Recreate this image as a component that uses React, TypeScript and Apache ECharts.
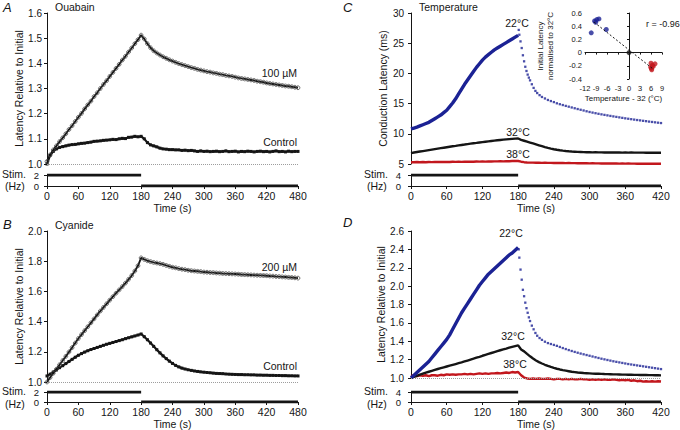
import React, { useEffect, useRef } from "react";
import * as echarts from "echarts";

// ---------- data ----------
const STEP_AB = 6; // s between samples, panels A & B
const STEP_CD = 5; // s between samples, panels C & D
const N_AB = 81;
const N_CD = 85;
const N_RISE = 37;

const OUABAIN_100UM = [
  1.010, 1.036, 1.056, 1.072, 1.089, 1.104, 1.120, 1.137, 1.152, 1.169,
  1.186, 1.201, 1.219, 1.235, 1.250, 1.268, 1.283, 1.300, 1.316, 1.331,
  1.348, 1.364, 1.380, 1.396, 1.413, 1.428, 1.445, 1.461, 1.478, 1.494,
  1.512,
  1.497, 1.478, 1.462, 1.450, 1.441, 1.433, 1.426, 1.420, 1.414, 1.409,
  1.404, 1.399, 1.395, 1.391, 1.387, 1.383, 1.380, 1.376, 1.373, 1.370,
  1.367, 1.365, 1.362, 1.360, 1.357, 1.355, 1.352, 1.350, 1.348, 1.345,
  1.342, 1.340, 1.338, 1.336, 1.334, 1.332, 1.329, 1.327, 1.325, 1.322,
  1.320, 1.318, 1.316, 1.314, 1.312, 1.310, 1.309, 1.307, 1.305, 1.303,
];
const OUABAIN_CONTROL = [
  1.000, 1.035, 1.050, 1.060, 1.066, 1.069, 1.072, 1.075, 1.077, 1.078,
  1.080, 1.082, 1.083, 1.085, 1.087, 1.090, 1.091, 1.092, 1.094, 1.095,
  1.096, 1.098, 1.097, 1.100, 1.102, 1.101, 1.106, 1.107, 1.110, 1.108,
  1.110,
  1.100, 1.085, 1.076, 1.072, 1.068, 1.063, 1.060, 1.059, 1.057, 1.057,
  1.056, 1.056, 1.054, 1.055, 1.053, 1.054, 1.052, 1.050, 1.052, 1.050,
  1.051, 1.049, 1.050, 1.051, 1.049, 1.050, 1.052, 1.049, 1.050, 1.051,
  1.048, 1.050, 1.049, 1.051, 1.050, 1.048, 1.050, 1.051, 1.049, 1.050,
  1.048, 1.050, 1.052, 1.049, 1.050, 1.048, 1.051, 1.049, 1.050, 1.050,
];
const CYANIDE_200UM = [
  1.000, 1.030, 1.058, 1.085, 1.114, 1.142, 1.170, 1.199, 1.228, 1.258,
  1.288, 1.314, 1.340, 1.366, 1.392, 1.418, 1.444, 1.470, 1.494, 1.518,
  1.542, 1.565, 1.588, 1.610, 1.632, 1.655, 1.680, 1.705, 1.735, 1.770,
  1.822,
  1.812, 1.803, 1.797, 1.792, 1.788, 1.784, 1.779, 1.772, 1.766, 1.760,
  1.756, 1.751, 1.747, 1.744, 1.740, 1.737, 1.735, 1.733, 1.731, 1.728,
  1.727, 1.725, 1.724, 1.722, 1.721, 1.719, 1.718, 1.717, 1.716, 1.715,
  1.714, 1.712, 1.711, 1.710, 1.709, 1.708, 1.707, 1.706, 1.705, 1.704,
  1.702, 1.701, 1.699, 1.698, 1.696, 1.695, 1.693, 1.692, 1.690, 1.688,
];
const CYANIDE_CONTROL = [
  1.040, 1.052, 1.066, 1.080, 1.095, 1.108, 1.122, 1.136, 1.150, 1.164,
  1.177, 1.188, 1.198, 1.207, 1.215, 1.222, 1.229, 1.236, 1.243, 1.250,
  1.256, 1.262, 1.268, 1.274, 1.280, 1.287, 1.293, 1.299, 1.305, 1.311,
  1.318,
  1.300, 1.280, 1.258, 1.236, 1.214, 1.193, 1.173, 1.155, 1.138, 1.123,
  1.110, 1.100, 1.092, 1.086, 1.081, 1.077, 1.073, 1.070, 1.067, 1.065,
  1.063, 1.061, 1.059, 1.057, 1.056, 1.055, 1.053, 1.052, 1.051, 1.050,
  1.049, 1.049, 1.048, 1.048, 1.047, 1.047, 1.046, 1.046, 1.045, 1.045,
  1.044, 1.044, 1.043, 1.043, 1.042, 1.042, 1.041, 1.041, 1.040, 1.040,
];

// Panel C: conduction latency (ms)
const TEMP22_RISE_MS = [
  10.8, 10.95, 11.1, 11.3, 11.5, 11.7, 11.9, 12.2, 12.5, 12.8,
  13.1, 13.5, 13.9, 14.5, 15.1, 15.8, 16.6, 17.4, 18.2, 18.9,
  19.6, 20.3, 21.0, 21.6, 22.2, 22.7, 23.1, 23.5, 23.9, 24.2,
  24.5, 24.8, 25.1, 25.4, 25.7, 26.0, 26.3,
];
const DECAY_T = [
  181, 182, 184, 186, 188, 190, 192, 194, 196, 198,
  200, 203, 206, 209, 212, 216, 220, 225, 230, 235,
  240, 245, 250, 255, 260, 265, 270, 275, 280, 285,
  290, 295, 300, 305, 310, 315, 320, 325, 330, 335,
  340, 345, 350, 355, 360, 365, 370, 375, 380, 385,
  390, 395, 400, 405, 410, 415, 420,
];
const TEMP22_DECAY_MS = [
  27.2, 26.4, 25.3, 24.2, 23.0, 22.0, 21.1, 20.4, 19.8, 19.3,
  18.85, 18.2, 17.6, 17.1, 16.75, 16.4, 16.1, 15.85, 15.6, 15.42,
  15.25, 15.05, 14.9, 14.76, 14.62, 14.49, 14.36, 14.23, 14.1, 13.98,
  13.86, 13.73, 13.61, 13.51, 13.41, 13.31, 13.22, 13.13, 13.05, 12.96,
  12.88, 12.8, 12.72, 12.64, 12.56, 12.49, 12.42, 12.35, 12.28, 12.22,
  12.15, 12.09, 12.02, 11.96, 11.9, 11.84, 11.78,
];
const TEMP32_MS = [
  6.8, 6.9, 6.98, 7.06, 7.14, 7.22, 7.3, 7.38, 7.46, 7.54,
  7.62, 7.7, 7.78, 7.86, 7.93, 8.0, 8.08, 8.15, 8.22, 8.3,
  8.37, 8.44, 8.5, 8.57, 8.63, 8.69, 8.75, 8.81, 8.87, 8.93,
  8.98, 9.03, 9.08, 9.12, 9.16, 9.2, 9.22,
  9.0, 8.85, 8.7, 8.55, 8.4, 8.25, 8.1, 7.95, 7.8, 7.67,
  7.55, 7.45, 7.36, 7.28, 7.21, 7.15, 7.1, 7.06, 7.03, 7.0,
  6.98, 6.96, 6.95, 6.94, 6.93, 6.94, 6.92, 6.93, 6.91, 6.92,
  6.9, 6.91, 6.9, 6.91, 6.89, 6.9, 6.89, 6.9, 6.88, 6.89,
  6.88, 6.89, 6.87, 6.88, 6.87, 6.88, 6.86, 6.87,
];
const TEMP38_MS = [
  5.30, 5.28, 5.33, 5.30, 5.32, 5.29, 5.33, 5.31, 5.34, 5.32,
  5.35, 5.33, 5.36, 5.34, 5.37, 5.35, 5.38, 5.36, 5.39, 5.37,
  5.40, 5.38, 5.41, 5.40, 5.42, 5.40, 5.43, 5.42, 5.44, 5.43,
  5.46, 5.44, 5.47, 5.46, 5.50, 5.52, 5.50,
  5.38, 5.30, 5.25, 5.22, 5.22, 5.20, 5.21, 5.19, 5.20, 5.18,
  5.19, 5.17, 5.18, 5.16, 5.17, 5.15, 5.16, 5.14, 5.15, 5.13,
  5.14, 5.12, 5.13, 5.11, 5.12, 5.10, 5.11, 5.09, 5.10, 5.08,
  5.10, 5.08, 5.09, 5.07, 5.08, 5.06, 5.08, 5.06, 5.07, 5.05,
  5.07, 5.05, 5.06, 5.04, 5.06, 5.04, 5.05, 5.04,
];

// Panel D: latency relative to initial
const REL22_RISE = [
  1.00, 1.03, 1.06, 1.09, 1.12, 1.15, 1.18, 1.22, 1.26, 1.30,
  1.34, 1.38, 1.42, 1.47, 1.53, 1.59, 1.65, 1.71, 1.76, 1.81,
  1.86, 1.91, 1.96, 2.01, 2.05, 2.09, 2.13, 2.16, 2.19, 2.22,
  2.25, 2.28, 2.31, 2.34, 2.36, 2.39, 2.42,
];
const REL22_DECAY = [
  2.40, 2.31, 2.18, 2.07, 1.96, 1.89, 1.82, 1.76, 1.71, 1.66,
  1.62, 1.57, 1.53, 1.49, 1.46, 1.435, 1.415, 1.395, 1.38, 1.37,
  1.36, 1.35, 1.338, 1.326, 1.315, 1.304, 1.294, 1.284, 1.275, 1.266,
  1.258, 1.25, 1.242, 1.234, 1.226, 1.218, 1.21, 1.203, 1.196, 1.189,
  1.182, 1.176, 1.17, 1.164, 1.158, 1.152, 1.147, 1.142, 1.137, 1.132,
  1.127, 1.122, 1.117, 1.112, 1.107, 1.102, 1.097,
];
const REL32 = [
  1.000, 1.012, 1.024, 1.036, 1.047, 1.058, 1.068, 1.078, 1.088, 1.098,
  1.107, 1.116, 1.125, 1.134, 1.143, 1.152, 1.161, 1.170, 1.180, 1.190,
  1.200, 1.210, 1.221, 1.231, 1.242, 1.252, 1.262, 1.272, 1.282, 1.292,
  1.302, 1.311, 1.320, 1.330, 1.339, 1.347, 1.355,
  1.310, 1.290, 1.262, 1.236, 1.212, 1.191, 1.173, 1.158, 1.144, 1.131,
  1.120, 1.110, 1.101, 1.093, 1.086, 1.080, 1.074, 1.068, 1.064, 1.060,
  1.057, 1.054, 1.052, 1.050, 1.048, 1.047, 1.046, 1.045, 1.043, 1.042,
  1.041, 1.040, 1.039, 1.038, 1.037, 1.037, 1.036, 1.035, 1.034, 1.034,
  1.033, 1.032, 1.032, 1.031, 1.031, 1.030, 1.030, 1.029,
];
const REL38 = [
  1.020, 1.030, 1.020, 1.030, 1.025, 1.030, 1.020, 1.030, 1.030, 1.025,
  1.035, 1.030, 1.040, 1.035, 1.040, 1.035, 1.040, 1.040, 1.045, 1.040,
  1.045, 1.040, 1.045, 1.050, 1.045, 1.050, 1.045, 1.050, 1.050, 1.055,
  1.050, 1.055, 1.060, 1.055, 1.065, 1.060, 1.065,
  1.030, 1.005, 0.995, 0.990, 0.995, 0.990, 0.995, 0.990, 0.990, 0.995,
  0.990, 0.985, 0.990, 0.990, 0.985, 0.990, 0.985, 0.990, 0.985, 0.985,
  0.990, 0.985, 0.985, 0.980, 0.985, 0.980, 0.985, 0.980, 0.985, 0.980,
  0.980, 0.985, 0.980, 0.975, 0.980, 0.975, 0.980, 0.970, 0.975, 0.965,
  0.970, 0.960, 0.965, 0.960, 0.965, 0.960, 0.965, 0.962,
];

// Inset: initial latency normalised to 32 °C vs temperature - 32
const INSET_BLUE_X = [-10.3, -8.9, -9.4, -8.8, -8.2, -9.1, -6.2];
const INSET_BLUE_Y = [0.30, 0.61, 0.48, 0.50, 0.51, 0.46, 0.35];
const INSET_BLACK_X = [0];
const INSET_BLACK_Y = [0];
const INSET_RED_X = [6.0, 6.4, 6.1, 6.6, 7.1, 6.2, 5.9];
const INSET_RED_Y = [-0.16, -0.19, -0.24, -0.21, -0.17, -0.26, -0.22];
const FIT_X = [-9.5, 6.6];
const FIT_Y = [0.46, -0.25];

// Stimulation protocol
const STIM_ON_T = [0, 180];
const STIM_OFF_AB_T = [180, 480];
const STIM_OFF_CD_T = [180, 420];
const STIM_AB_HZ = 2;
const STIM_CD_HZ = 4;

// ---------- helpers ----------
const FONT = '"Liberation Sans", Arial, Helvetica, sans-serif';
const INK = "#151515";
const BLUE = "#1b2294";
const RED = "#c2171d";
const FS = 10.5;

const T_AB = Array.from({ length: N_AB }, (_, i) => i * STEP_AB);
const T_CD = Array.from({ length: N_CD }, (_, i) => i * STEP_CD);
const T_RISE = Array.from({ length: N_RISE }, (_, i) => i * STEP_CD);
const pairs = (xs: number[], ys: number[]) => ys.map((y, i) => [xs[i], y]);

const axisLineStyle = { show: true, lineStyle: { color: INK, width: 1 } };
const tickStyle = { show: true, length: 3, inside: false, lineStyle: { color: INK, width: 1 } };

function hiddenX(gridIndex: number, max: number) {
  return { type: "value", gridIndex, min: 0, max, show: false };
}
function timeX(gridIndex: number, max: number) {
  return {
    type: "value", gridIndex, min: 0, max, interval: 60,
    name: "Time (s)", nameLocation: "middle", nameGap: 16,
    nameTextStyle: { fontFamily: FONT, fontSize: FS, color: INK },
    axisLine: axisLineStyle, axisTick: tickStyle,
    axisLabel: { fontFamily: FONT, fontSize: FS, color: INK, margin: 4 },
    splitLine: { show: false },
  };
}
function mainY(gridIndex: number, min: number, max: number, interval: number, name: string, nameGap: number, offset: number, dec: number) {
  return {
    type: "value", gridIndex, min, max, interval, offset,
    name, nameLocation: "middle", nameGap,
    nameTextStyle: { fontFamily: FONT, fontSize: FS, color: INK },
    axisLine: axisLineStyle, axisTick: tickStyle,
    axisLabel: { fontFamily: FONT, fontSize: 10, color: INK, margin: 4, formatter: (v: number) => v.toFixed(dec) },
    splitLine: { show: false },
  };
}
function stimY(gridIndex: number, hz: number, offset: number) {
  return {
    type: "value", gridIndex, min: 0, max: hz, interval: hz, offset,
    axisLine: axisLineStyle, axisTick: tickStyle,
    axisLabel: { fontFamily: FONT, fontSize: 9.5, color: INK, margin: 4 },
    splitLine: { show: false },
  };
}
const dotted1 = {
  silent: true, symbol: "none", label: { show: false },
  lineStyle: { color: "#9d9d9d", type: "dotted", width: 1 },
  data: [{ yAxis: 1 }],
};
function stimSeries(axis: number, hz: number, offT: number[]) {
  return [
    { type: "line", xAxisIndex: axis, yAxisIndex: axis, data: pairs(STIM_ON_T, [hz, hz]), symbol: "none", lineStyle: { color: INK, width: 3 }, silent: true },
    { type: "line", xAxisIndex: axis, yAxisIndex: axis, data: pairs(offT, [0, 0]), symbol: "none", lineStyle: { color: INK, width: 3 }, silent: true },
  ];
}
function txt(text: string, x: number, y: number, opts: any = {}) {
  const align = opts.align || "left";
  const vAlign = opts.v || "middle";
  return {
    type: "text", x, y, silent: true,
    style: {
      text, fill: INK,
      font: `${opts.italic ? "italic " : ""}${opts.size || FS}px ${FONT}`,
      align, verticalAlign: vAlign, textAlign: align, textVerticalAlign: vAlign,
    },
  };
}
const drugStyle = {
  symbol: "circle", symbolSize: 3.8, showAllSymbol: true,
  itemStyle: { color: "rgba(255,255,255,0)", borderColor: "#4a4a4a", borderWidth: 0.8 },
  lineStyle: { color: INK, width: 1.9 },
};
const controlStyle = {
  symbol: "rect", symbolSize: 3, showAllSymbol: true, itemStyle: { color: INK },
  lineStyle: { color: INK, width: 2.2 },
};

function buildOption() {
  const grids = [
    { left: 47, top: 13, width: 251, height: 151 }, // 0 A main
    { left: 47, top: 175, width: 251, height: 11 }, // 1 A stim
    { left: 47, top: 231, width: 251, height: 151 }, // 2 B main
    { left: 47, top: 392, width: 251, height: 12 }, // 3 B stim
    { left: 411, top: 13, width: 250, height: 151 }, // 4 C main
    { left: 411, top: 175, width: 250, height: 11 }, // 5 C stim
    { left: 411, top: 231, width: 250, height: 147 }, // 6 D main
    { left: 411, top: 392, width: 250, height: 12 }, // 7 D stim
    { left: 585, top: 13, width: 77, height: 66 }, // 8 inset
  ].map((g) => ({ ...g, containLabel: false, show: false }));

  const xAxis = [
    hiddenX(0, 480), timeX(1, 480), hiddenX(2, 480), timeX(3, 480),
    hiddenX(4, 420), timeX(5, 420), hiddenX(6, 420), timeX(7, 420),
    {
      type: "value", gridIndex: 8, min: -12, max: 9, interval: 3, offset: 2,
      name: "Temperature - 32 (°C)", nameLocation: "middle", nameGap: 13,
      nameTextStyle: { fontFamily: FONT, fontSize: 8, color: INK },
      axisLine: axisLineStyle, axisTick: { ...tickStyle, length: 2 },
      axisLabel: { fontFamily: FONT, fontSize: 7.5, color: INK, margin: 3, interval: 0, hideOverlap: false },
      splitLine: { show: false },
    },
  ];
  const yAxis = [
    mainY(0, 1.0, 1.6, 0.1, "Latency Relative to Initial", 21, 1, 1),
    stimY(1, STIM_AB_HZ, 4),
    mainY(2, 1.0, 2.0, 0.2, "Latency Relative to Initial", 21, 1, 1),
    stimY(3, STIM_AB_HZ, 4),
    mainY(4, 5, 30, 5, "Conduction Latency (ms)", 20, 3, 0),
    stimY(5, STIM_CD_HZ, 6),
    mainY(6, 1.0, 2.6, 0.2, "Latency Relative to Initial", 21, 3, 1),
    stimY(7, STIM_CD_HZ, 6),
    {
      type: "value", gridIndex: 8, min: -0.4, max: 0.6, interval: 0.2,
      name: "Initial Latency\nnormalised to 32°C", nameLocation: "middle", nameGap: 30,
      nameTextStyle: { fontFamily: FONT, fontSize: 8, color: INK, lineHeight: 10 },
      axisLine: axisLineStyle, axisTick: { ...tickStyle, length: 2 },
      axisLabel: {
        fontFamily: FONT, fontSize: 7.5, color: INK, margin: 3,
        formatter: (v: number) => (Math.abs(v) < 1e-9 ? "0" : v.toFixed(1)),
      },
      splitLine: { show: false },
    },
  ];

  const series: any[] = [
    // A
    { type: "line", xAxisIndex: 0, yAxisIndex: 0, data: pairs(T_AB, OUABAIN_CONTROL), ...controlStyle, markLine: dotted1 },
    { type: "line", xAxisIndex: 0, yAxisIndex: 0, data: pairs(T_AB, OUABAIN_100UM), ...drugStyle },
    ...stimSeries(1, STIM_AB_HZ, STIM_OFF_AB_T),
    // B
    { type: "line", xAxisIndex: 2, yAxisIndex: 2, data: pairs(T_AB, CYANIDE_CONTROL), ...controlStyle, markLine: dotted1 },
    { type: "line", xAxisIndex: 2, yAxisIndex: 2, data: pairs(T_AB, CYANIDE_200UM), ...drugStyle },
    ...stimSeries(3, STIM_AB_HZ, STIM_OFF_AB_T),
    // C
    { type: "line", xAxisIndex: 4, yAxisIndex: 4, data: pairs(T_CD, TEMP38_MS), symbol: "none", lineStyle: { color: RED, width: 2.4 } },
    { type: "line", xAxisIndex: 4, yAxisIndex: 4, data: pairs(T_CD, TEMP32_MS), symbol: "none", lineStyle: { color: INK, width: 2.4 } },
    { type: "line", xAxisIndex: 4, yAxisIndex: 4, data: pairs(T_RISE, TEMP22_RISE_MS), symbol: "none", lineStyle: { color: BLUE, width: 3.4 } },
    { type: "scatter", xAxisIndex: 4, yAxisIndex: 4, data: pairs(DECAY_T, TEMP22_DECAY_MS), symbol: "rect", symbolSize: 2.3, itemStyle: { color: BLUE } },
    ...stimSeries(5, STIM_CD_HZ, STIM_OFF_CD_T),
    // D
    { type: "line", xAxisIndex: 6, yAxisIndex: 6, data: pairs(T_CD, REL38), symbol: "none", clip: false, lineStyle: { color: RED, width: 2.4 } },
    { type: "line", xAxisIndex: 6, yAxisIndex: 6, data: pairs(T_CD, REL32), symbol: "none", lineStyle: { color: INK, width: 2.4 }, markLine: dotted1 },
    { type: "line", xAxisIndex: 6, yAxisIndex: 6, data: pairs(T_RISE, REL22_RISE), symbol: "none", lineStyle: { color: BLUE, width: 3.4 } },
    { type: "scatter", xAxisIndex: 6, yAxisIndex: 6, data: pairs(DECAY_T, REL22_DECAY), symbol: "rect", symbolSize: 2.3, itemStyle: { color: BLUE } },
    ...stimSeries(7, STIM_CD_HZ, STIM_OFF_CD_T),
    // inset
    { type: "line", xAxisIndex: 8, yAxisIndex: 8, data: pairs(FIT_X, FIT_Y), symbol: "none", lineStyle: { color: INK, width: 1, type: [2, 2] } },
    { type: "scatter", xAxisIndex: 8, yAxisIndex: 8, data: pairs(INSET_BLUE_X, INSET_BLUE_Y), symbolSize: 5, itemStyle: { color: BLUE } },
    { type: "scatter", xAxisIndex: 8, yAxisIndex: 8, data: pairs(INSET_BLACK_X, INSET_BLACK_Y), symbolSize: 5, itemStyle: { color: INK } },
    { type: "scatter", xAxisIndex: 8, yAxisIndex: 8, data: pairs(INSET_RED_X, INSET_RED_Y), symbolSize: 5, itemStyle: { color: RED } },
  ];

  const graphic = [
    txt("A", 3, 7, { italic: true, size: 13 }),
    txt("Ouabain", 55, 7),
    txt("100 µM", 297, 73, { align: "right" }),
    txt("Control", 297, 142, { align: "right" }),
    txt("Stim.", 2, 174),
    txt("(Hz)", 5, 186),
    txt("B", 3, 224, { italic: true, size: 13 }),
    txt("Cyanide", 55, 225),
    txt("200 µM", 297, 267, { align: "right" }),
    txt("Control", 297, 366, { align: "right" }),
    txt("Stim.", 2, 391),
    txt("(Hz)", 5, 404),
    txt("C", 343, 7, { italic: true, size: 13 }),
    txt("Temperature", 419, 7),
    txt("22°C", 517, 23, { align: "center" }),
    txt("32°C", 518, 132, { align: "center" }),
    txt("38°C", 518, 154, { align: "center" }),
    txt("Stim.", 364, 174),
    txt("(Hz)", 367, 186),
    txt("r = -0.96", 646, 24, { size: 9 }),
    txt("D", 343, 222, { italic: true, size: 13 }),
    txt("22°C", 511, 233, { align: "center" }),
    txt("32°C", 513, 336, { align: "center" }),
    txt("38°C", 515, 364, { align: "center" }),
    txt("Stim.", 364, 391),
    txt("(Hz)", 367, 404),
  ];

  return {
    animation: false,
    backgroundColor: "#ffffff",
    textStyle: { fontFamily: FONT },
    grid: grids,
    xAxis,
    yAxis,
    series,
    graphic,
  };
}

export default function App() {
  const ref = useRef<HTMLDivElement>(null);
  useEffect(() => {
    if (!ref.current) return;
    const chart = echarts.init(ref.current, null, { renderer: "svg" });
    chart.setOption(buildOption() as any);
    return () => chart.dispose();
  }, []);
  return (
    <div
      ref={ref}
      style={{ position: "absolute", left: 0, top: 0, width: 680, height: 430, background: "#fff" }}
    />
  );
}
